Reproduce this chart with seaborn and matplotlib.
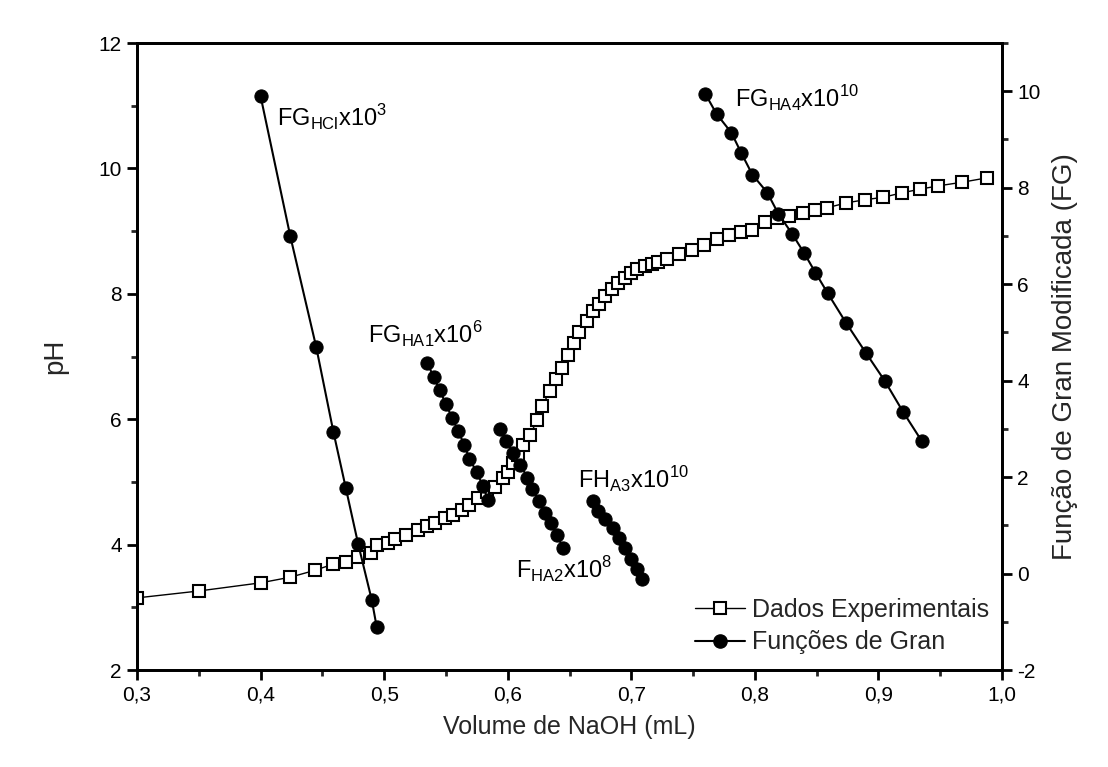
import matplotlib
matplotlib.use("Agg")
import matplotlib.pyplot as plt
import seaborn as sns
import pandas as pd
from matplotlib.ticker import MultipleLocator, FuncFormatter
from matplotlib.lines import Line2D
from matplotlib import font_manager

# ---- data -------------------------------------------------------------
vol_exp = [0.30, 0.35, 0.40, 0.424, 0.444, 0.459, 0.469, 0.479, 0.489, 0.494,
           0.503, 0.509, 0.518, 0.527, 0.535, 0.541, 0.549, 0.556, 0.563, 0.569,
           0.576, 0.583, 0.590, 0.596, 0.600, 0.604, 0.608, 0.612, 0.618, 0.624,
           0.628, 0.634, 0.639, 0.644, 0.649, 0.654, 0.658, 0.664, 0.669, 0.674,
           0.679, 0.684, 0.689, 0.695, 0.700, 0.705, 0.711, 0.717, 0.722, 0.729,
           0.739, 0.749, 0.759, 0.769, 0.779, 0.789, 0.798, 0.808, 0.818, 0.828,
           0.839, 0.849, 0.858, 0.874, 0.889, 0.904, 0.919, 0.934, 0.948, 0.968,
           0.988]
ph_exp = [3.15, 3.26, 3.39, 3.48, 3.59, 3.69, 3.72, 3.80, 3.87, 3.99,
          4.03, 4.09, 4.15, 4.23, 4.30, 4.34, 4.42, 4.47, 4.55, 4.63,
          4.74, 4.84, 4.92, 5.06, 5.16, 5.30, 5.43, 5.59, 5.75, 5.99,
          6.21, 6.45, 6.64, 6.82, 7.02, 7.22, 7.39, 7.57, 7.73, 7.84,
          7.96, 8.08, 8.17, 8.25, 8.33, 8.40, 8.44, 8.48, 8.51, 8.56,
          8.63, 8.70, 8.78, 8.87, 8.94, 8.99, 9.02, 9.14, 9.21, 9.24,
          9.29, 9.34, 9.37, 9.45, 9.50, 9.54, 9.61, 9.67, 9.72, 9.78,
          9.85]

vol_hcl = [0.400, 0.424, 0.445, 0.459, 0.469, 0.479, 0.490, 0.494]
fg_hcl = [9.90, 7.00, 4.70, 2.93, 1.77, 0.61, -0.55, -1.11]

vol_ha1 = [0.535, 0.540, 0.545, 0.550, 0.555, 0.560, 0.565, 0.569, 0.575, 0.580, 0.584]
fg_ha1 = [4.36, 4.08, 3.80, 3.51, 3.23, 2.95, 2.66, 2.38, 2.10, 1.81, 1.53]

vol_ha2 = [0.594, 0.599, 0.604, 0.610, 0.616, 0.620, 0.625, 0.630, 0.635, 0.640, 0.645]
fg_ha2 = [3.00, 2.75, 2.50, 2.26, 1.99, 1.76, 1.51, 1.26, 1.04, 0.79, 0.52]

vol_ha3 = [0.669, 0.673, 0.679, 0.685, 0.690, 0.695, 0.700, 0.705, 0.709]
fg_ha3 = [1.51, 1.30, 1.14, 0.95, 0.74, 0.52, 0.30, 0.09, -0.12]

vol_ha4 = [0.760, 0.769, 0.781, 0.789, 0.798, 0.810, 0.819, 0.830, 0.840,
           0.849, 0.859, 0.874, 0.890, 0.905, 0.920, 0.935]
fg_ha4 = [9.94, 9.53, 9.14, 8.72, 8.27, 7.90, 7.46, 7.05, 6.64,
          6.24, 5.81, 5.19, 4.57, 4.00, 3.35, 2.75]

gran_sets = [(vol_hcl, fg_hcl), (vol_ha1, fg_ha1), (vol_ha2, fg_ha2),
             (vol_ha3, fg_ha3), (vol_ha4, fg_ha4)]

# ---- style ------------------------------------------------------------
sns.set_theme(style="white")
plt.rcParams['font.family'] = ['Liberation Sans', 'DejaVu Sans']
plt.rcParams['axes.linewidth'] = 2.0

names = {f.name for f in font_manager.fontManager.ttflist}
narrow = 'Liberation Sans Narrow' in names

fig = plt.figure(figsize=(11.08, 7.67), dpi=100)
ax = fig.add_axes([137/1108, 1-670/767, (1002-137)/1108, (670-43)/767])
ax2 = ax.twinx()

SQ = dict(color="black", lw=1.0, marker="s", markersize=8.5,
          markerfacecolor="white", markeredgecolor="black", markeredgewidth=1.5)
CI = dict(color="black", lw=1.5, marker="o", markersize=9.5,
          markerfacecolor="black", markeredgecolor="black")

df_exp = pd.DataFrame({"vol": vol_exp, "ph": ph_exp})
sns.lineplot(data=df_exp, x="vol", y="ph", ax=ax, sort=False, estimator=None, **SQ)

for xs, ys in gran_sets:
    d = pd.DataFrame({"vol": xs, "fg": ys})
    sns.lineplot(data=d, x="vol", y="fg", ax=ax2, sort=False, estimator=None, **CI)

ax.set_xlim(0.3, 1.0)
ax.set_ylim(2, 12)
ax2.set_ylim(-2, 11)

ax.xaxis.set_major_locator(MultipleLocator(0.1))
ax.xaxis.set_minor_locator(MultipleLocator(0.05))
ax.yaxis.set_major_locator(MultipleLocator(2))
ax.yaxis.set_minor_locator(MultipleLocator(1))
ax2.yaxis.set_major_locator(MultipleLocator(2))
ax2.yaxis.set_minor_locator(MultipleLocator(1))

ax.xaxis.set_major_formatter(FuncFormatter(lambda v, p: f"{v:.1f}".replace(".", ",")))
ax.yaxis.set_major_formatter(FuncFormatter(lambda v, p: f"{v:.0f}"))
ax2.yaxis.set_major_formatter(FuncFormatter(lambda v, p: f"{v:.0f}"))

for a in (ax, ax2):
    a.tick_params(which="major", direction="out", length=7, width=2,
                  labelsize=15, colors="black", pad=4)
    a.tick_params(which="minor", direction="out", length=4, width=2)
    for s in a.spines.values():
        s.set_linewidth(2.0)
        s.set_color("black")
ax.tick_params(which="both", bottom=True, left=True, top=False, right=False)
ax2.tick_params(which="both", right=True, left=False)

ax.set_xlabel("Volume de NaOH (mL)", fontsize=18, labelpad=8)
ax.set_ylabel("pH", fontsize=20, labelpad=22)
if narrow:
    ax2.set_ylabel("Função de Gran Modificada (FG)", fontsize=22, labelpad=8,
                   family=['Liberation Sans Narrow', 'DejaVu Sans'])
else:
    ax2.set_ylabel("Função de Gran Modificada (FG)", fontsize=20, labelpad=8)

ann = dict(fontsize=17, color="black", transform=ax.transData, va="center")
ax.text(0.413, 10.8, r"FG$_\mathregular{HCl}$x10$^\mathregular{3}$", **ann)
ax.text(0.487, 7.35, r"FG$_\mathregular{HA1}$x10$^\mathregular{6}$", **ann)
ax.text(0.607, 3.6, r"F$_\mathregular{HA2}$x10$^\mathregular{8}$", **ann)
ax.text(0.657, 5.03, r"FH$_\mathregular{A3}$x10$^\mathregular{10}$", **ann)
ax.text(0.784, 11.1, r"FG$_\mathregular{HA4}$x10$^\mathregular{10}$", **ann)

handles = [Line2D([], [], **SQ), Line2D([], [], **CI)]
ax.legend(handles, ["Dados Experimentais", "Funções de Gran"], loc="lower right",
          bbox_to_anchor=(1.0, 0.005), frameon=False, fontsize=18,
          handlelength=2.0, handletextpad=0.3, labelspacing=0.35, borderaxespad=0.1)

fig.savefig("out.png", dpi=100, facecolor="white")
